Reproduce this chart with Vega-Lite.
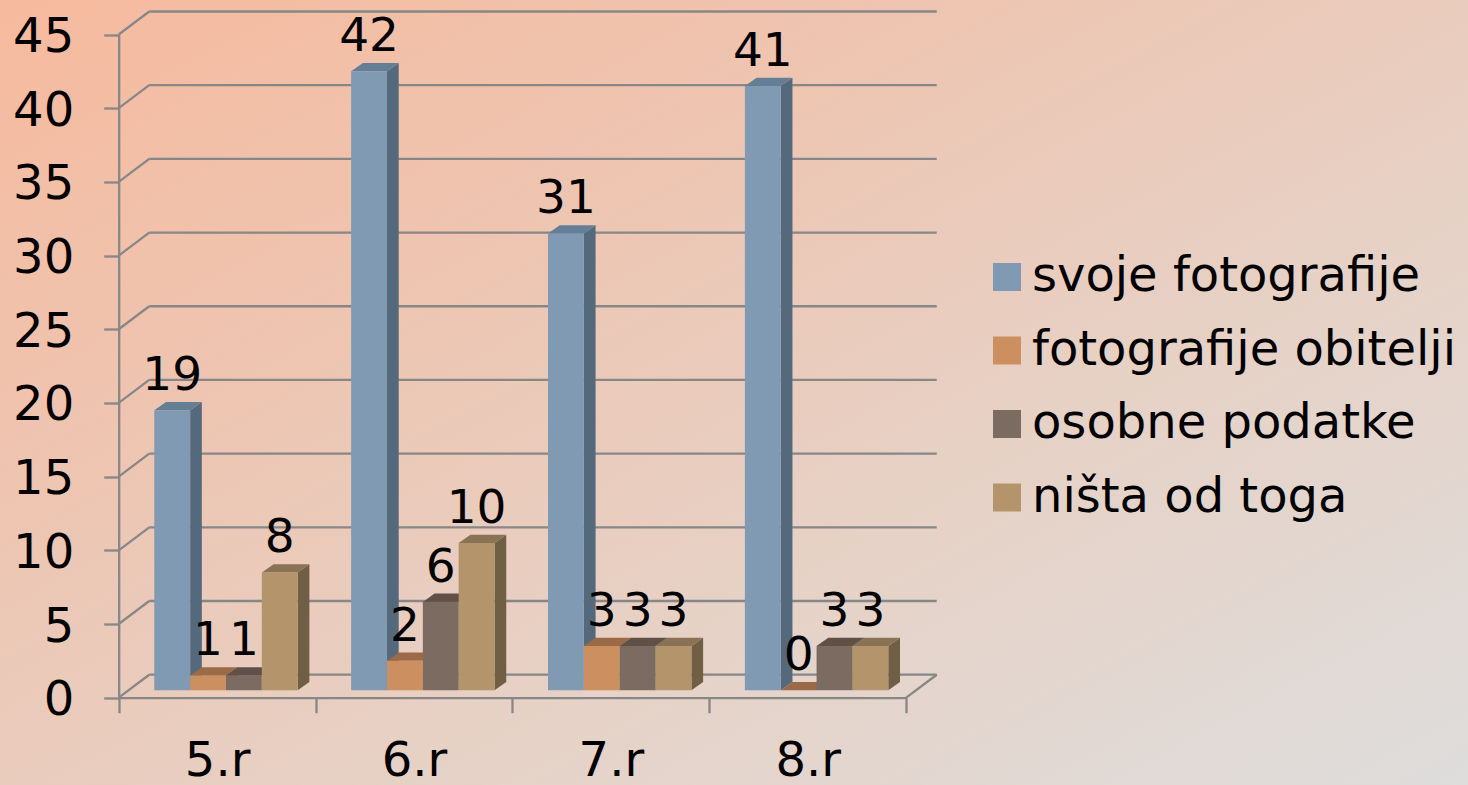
{
"$schema":"https://vega.github.io/schema/vega-lite/v6.json",
"width":1468,"height":785,"padding":0,"autosize":{"type":"none"},
"background":"#E9CDBD",
"config":{"view":{"stroke":null,"fill":{"gradient":"linear","x1":0,"y1":0,"x2":1,"y2":1,"stops":[{"offset":0,"color":"#F6BA9E"},{"offset":0.35,"color":"#EDC6B3"},{"offset":0.65,"color":"#E6D2C7"},{"offset":1,"color":"#DEDDDC"}]}},"font":"DejaVu Sans"},
"datasets":{
"bars":[
{"razred":"5.r","serija":"svoje fotografije","broj":19},{"razred":"5.r","serija":"fotografije obitelji","broj":1},{"razred":"5.r","serija":"osobne podatke","broj":1},{"razred":"5.r","serija":"ništa od toga","broj":8},
{"razred":"6.r","serija":"svoje fotografije","broj":42},{"razred":"6.r","serija":"fotografije obitelji","broj":2},{"razred":"6.r","serija":"osobne podatke","broj":6},{"razred":"6.r","serija":"ništa od toga","broj":10},
{"razred":"7.r","serija":"svoje fotografije","broj":31},{"razred":"7.r","serija":"fotografije obitelji","broj":3},{"razred":"7.r","serija":"osobne podatke","broj":3},{"razred":"7.r","serija":"ništa od toga","broj":3},
{"razred":"8.r","serija":"svoje fotografije","broj":41},{"razred":"8.r","serija":"fotografije obitelji","broj":0},{"razred":"8.r","serija":"osobne podatke","broj":3},{"razred":"8.r","serija":"ništa od toga","broj":3}],
"ticks":[{"t":0},{"t":5},{"t":10},{"t":15},{"t":20},{"t":25},{"t":30},{"t":35},{"t":40},{"t":45}]
},
"resolve":{"scale":{"x":"independent","color":"independent"},"axis":{"y":"independent"}},
"layer":[
{"data":{"name":"ticks"},
 "transform":[{"calculate":"datum.t+1.56","as":"tb"},{"calculate":"0","as":"x0"},{"calculate":"4","as":"x4"},{"calculate":"0.155","as":"xb"},{"calculate":"4.155","as":"xe"}],
 "layer":[
 {"mark":{"type":"rule","color":"#878787","strokeWidth":2.3},
  "encoding":{"x":{"field":"xb","type":"quantitative","scale":{"domain":[0,4],"range":[118.7,906.2]},"axis":null},"x2":{"field":"xe"},"y":{"field":"tb","type":"quantitative","scale":{"domain":[0,45],"range":[697.7,34.5]},"axis":null}}},
 {"mark":{"type":"rule","color":"#878787","strokeWidth":2.3},
  "encoding":{"x":{"field":"x0","type":"quantitative","scale":{"domain":[0,4],"range":[118.7,906.2]},"axis":null},"x2":{"field":"xb"},"y":{"field":"t","type":"quantitative","scale":{"domain":[0,45],"range":[697.7,34.5]},"axis":null},"y2":{"field":"tb"}}},
 {"transform":[{"filter":"datum.t==0"}],"mark":{"type":"rule","color":"#878787","strokeWidth":2.3},
  "encoding":{"x":{"field":"x4","type":"quantitative","scale":{"domain":[0,4],"range":[118.7,906.2]},"axis":null},"x2":{"field":"xe"},"y":{"field":"t","type":"quantitative","scale":{"domain":[0,45],"range":[697.7,34.5]},"axis":null},"y2":{"field":"tb"}}}
 ]},
{"data":{"name":"bars"},
 "transform":[
 {"calculate":"indexof(['5.r','6.r','7.r','8.r'],datum.razred)","as":"gi"},
 {"calculate":"indexof(['svoje fotografije','fotografije obitelji','osobne podatke','ništa od toga'],datum.serija)","as":"si"},
 {"calculate":"datum.gi+(35.6+35.85*(datum.si+1))/196.9","as":"xr"},
 {"calculate":"[datum.xr,datum.xr+0.0594]","as":"vx"},
 {"calculate":"[datum.broj+0.5,datum.broj+1.063]","as":"vy"},
 {"calculate":"[0.5,1.063]","as":"vb"},
 {"flatten":["vx","vy","vb"]}],
 "mark":{"type":"area","interpolate":"linear","opacity":1},
 "encoding":{
 "x":{"field":"vx","type":"quantitative","scale":{"domain":[0,4],"range":[118.7,906.2]},"axis":null},
 "y":{"field":"vy","type":"quantitative","scale":{"domain":[0,45],"range":[697.7,34.5]},"axis":null,"stack":null},
 "y2":{"field":"vb"},
 "detail":{"field":"razred"},
 "color":{"field":"serija","type":"nominal","legend":null,"scale":{"domain":["svoje fotografije","fotografije obitelji","osobne podatke","ništa od toga"],"range":["#55697D","#8F6240","#5E5047","#705E45"]}}}},
{"data":{"name":"bars"},
 "transform":[
 {"calculate":"indexof(['5.r','6.r','7.r','8.r'],datum.razred)","as":"gi"},
 {"calculate":"indexof(['svoje fotografije','fotografije obitelji','osobne podatke','ništa od toga'],datum.serija)","as":"si"},
 {"calculate":"datum.gi+(35.6+35.85*datum.si)/196.9","as":"xl"},
 {"calculate":"[datum.xl,datum.xl+0.0594]","as":"vx"},
 {"calculate":"[datum.xl+0.18207,datum.xl+0.24147]","as":"vx2"},
 {"calculate":"[datum.broj+0.5,datum.broj+1.063]","as":"vy"},
 {"flatten":["vx","vx2","vy"]}],
 "mark":{"type":"area","orient":"horizontal","interpolate":"linear","opacity":1},
 "encoding":{
 "y":{"field":"vy","type":"quantitative","scale":{"domain":[0,45],"range":[697.7,34.5]},"axis":null},
 "x":{"field":"vx","type":"quantitative","scale":{"domain":[0,4],"range":[118.7,906.2]},"axis":null,"stack":null},
 "x2":{"field":"vx2"},
 "detail":{"field":"razred"},
 "color":{"field":"serija","type":"nominal","legend":null,"scale":{"domain":["svoje fotografije","fotografije obitelji","osobne podatke","ništa od toga"],"range":["#647E96","#9B6A46","#5F5148","#8A7355"]}}}},
{"data":{"name":"bars"},
 "mark":{"type":"bar","yOffset":-7.4,"opacity":1},
 "encoding":{
 "x":{"field":"razred","type":"nominal","title":null,"scale":{"range":[118.7,906.2],"paddingInner":0,"paddingOuter":0},
  "axis":{"offset":-87.3,"domainColor":"#878787","domainWidth":2.3,"tickColor":"#878787","tickWidth":2.3,"tickSize":15,"tickBand":"extent","labelAngle":0,"labelFontSize":48,"labelColor":"#000000","labelPadding":25,"labelFont":"DejaVu Sans","grid":false}},
 "xOffset":{"field":"serija","type":"nominal","sort":["svoje fotografije","fotografije obitelji","osobne podatke","ništa od toga"],"scale":{"range":[8.8,205.7],"paddingInner":0,"paddingOuter":0.747}},
 "y":{"field":"broj","type":"quantitative","title":null,"scale":{"domain":[0,45],"range":[697.7,34.5]},
  "axis":{"offset":-118.7,"values":[0,5,10,15,20,25,30,35,40,45],"domainColor":"#878787","domainWidth":2.3,"tickColor":"#878787","tickWidth":2.3,"tickSize":15,"labelFontSize":48,"labelColor":"#000000","labelPadding":30,"labelOffset":3,"labelFont":"DejaVu Sans","grid":false}},
 "color":{"field":"serija","type":"nominal","sort":["svoje fotografije","fotografije obitelji","osobne podatke","ništa od toga"],"scale":{"domain":["svoje fotografije","fotografije obitelji","osobne podatke","ništa od toga"],"range":["#7F9AB2","#CC9060","#7C6B60","#B4956B"]},
  "legend":{"title":null,"orient":"none","legendX":983,"legendY":253,"symbolType":"square","symbolSize":784,"symbolStrokeWidth":0,"symbolOpacity":1,"labelFontSize":48,"labelColor":"#000000","labelFont":"DejaVu Sans","rowPadding":25.5,"labelOffset":1,"labelLimit":500}}}},
{"data":{"name":"bars"},
 "mark":{"type":"text","fontSize":47,"baseline":"alphabetic","dy":-27.5,"color":"#000000","font":"DejaVu Sans"},
 "encoding":{
 "x":{"field":"razred","type":"nominal","scale":{"range":[118.7,906.2],"paddingInner":0,"paddingOuter":0},"axis":null},
 "xOffset":{"field":"serija","type":"nominal","sort":["svoje fotografije","fotografije obitelji","osobne podatke","ništa od toga"],"scale":{"range":[8.8,205.7],"paddingInner":0,"paddingOuter":0.747}},
 "y":{"field":"broj","type":"quantitative","scale":{"domain":[0,45],"range":[697.7,34.5]},"axis":null},
 "text":{"field":"broj","type":"quantitative"}}}
]
}
